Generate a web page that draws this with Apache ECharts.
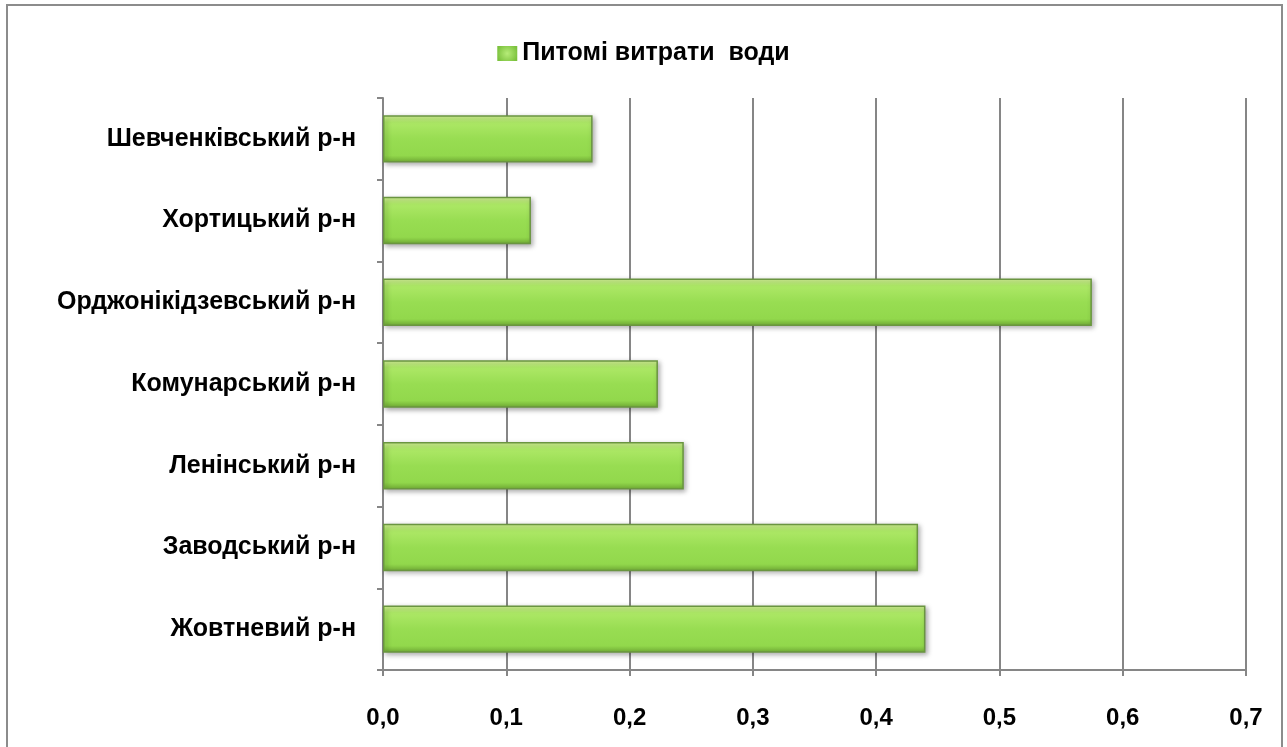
<!DOCTYPE html>
<html>
<head>
<meta charset="utf-8">
<script src="https://cdn.jsdelivr.net/npm/echarts@6/dist/echarts.min.js"></script>
<style>
  html, body { margin: 0; padding: 0; background: #fff; }
  #chart { width: 1287px; height: 747px; }
</style>
</head>
<body>
<div id="chart"></div>
<script>
// Districts, top to bottom as shown
const districts = [
  'Шевченківський р-н',
  'Хортицький р-н',
  'Орджонікідзевський р-н',
  'Комунарський р-н',
  'Ленінський р-н',
  'Заводський р-н',
  'Жовтневий р-н'
];
// Specific water consumption per district
const consumption = [0.170, 0.120, 0.575, 0.223, 0.244, 0.434, 0.440];
const seriesName = 'Питомі витрати  води';
const xTicks = [0, 0.1, 0.2, 0.3, 0.4, 0.5, 0.6, 0.7];

const chart = echarts.init(document.getElementById('chart'));

const barFill = new echarts.graphic.LinearGradient(0, 0, 0, 1, [
  { offset: 0, color: '#d8f69a' },
  { offset: 0.15, color: '#ade866' },
  { offset: 0.5, color: '#98dd52' },
  { offset: 0.85, color: '#92d84c' },
  { offset: 1, color: '#72ad36' }
]);

const iconFill = new echarts.graphic.RadialGradient(0.5, 0.5, 0.7, [
  { offset: 0, color: '#b6ec78' },
  { offset: 1, color: '#7cc23e' }
]);

const font = '"Liberation Sans", Arial, sans-serif';

chart.setOption({
  animation: false,
  backgroundColor: '#ffffff',
  graphic: [{
    type: 'rect',
    shape: { x: 7, y: 5, width: 1275, height: 760 },
    style: { fill: 'none', stroke: '#8c8c8c', lineWidth: 2 },
    silent: true,
    z: 0
  }],
  legend: {
    data: [{ name: seriesName, icon: 'rect', itemStyle: { color: iconFill, borderWidth: 0, shadowBlur: 0 } }],
    top: 36,
    left: 'center',
    itemWidth: 20,
    itemHeight: 15,
    itemGap: 4,
    textStyle: { fontFamily: font, fontSize: 25, fontWeight: 'bold', color: '#000' }
  },
  grid: { left: 383, right: 41, top: 98, bottom: 77, containLabel: false },
  xAxis: {
    type: 'value',
    min: 0,
    max: 0.7,
    interval: 0.1,
    axisLine: { show: true, lineStyle: { color: '#868686', width: 2 } },
    axisTick: { show: true, length: 6, lineStyle: { color: '#868686', width: 2 } },
    splitLine: { show: true, lineStyle: { color: '#868686', width: 2 } },
    axisLabel: {
      margin: 36,
      fontFamily: font, fontSize: 24, fontWeight: 'bold', color: '#000',
      formatter: v => {
        const t = xTicks.find(x => Math.abs(x - v) < 1e-9);
        return (t !== undefined ? t : v).toFixed(1).replace('.', ',');
      }
    }
  },
  yAxis: {
    type: 'category',
    inverse: true,
    data: districts,
    axisLine: { show: true, lineStyle: { color: '#868686', width: 2 } },
    axisTick: { show: true, length: 6, lineStyle: { color: '#868686', width: 2 } },
    axisLabel: {
      margin: 27,
      fontFamily: font, fontSize: 25, fontWeight: 'bold', color: '#000'
    }
  },
  series: [{
    name: seriesName,
    type: 'bar',
    data: consumption,
    barCategoryGap: '42%',
    itemStyle: {
      color: barFill,
      borderColor: '#6a9540',
      borderWidth: 1.5,
      shadowColor: 'rgba(0,0,0,0.35)',
      shadowBlur: 5,
      shadowOffsetX: 2,
      shadowOffsetY: 2
    }
  }]
});
</script>
</body>
</html>
